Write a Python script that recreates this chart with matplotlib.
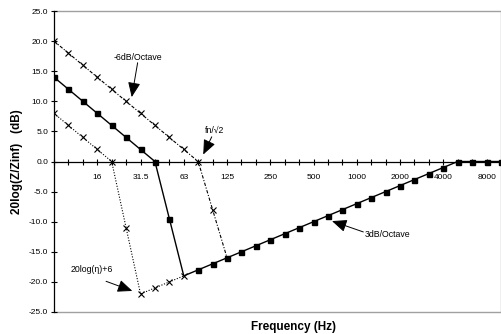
import numpy as np
import matplotlib
matplotlib.use("Agg")
import matplotlib.pyplot as plt

plt.rcParams['font.family'] = ['Liberation Sans', 'DejaVu Sans']

# Third-octave band centre frequencies (category axis)
freqs = [8, 10, 12.5, 16, 20, 25, 31.5, 40, 50, 63, 80, 100, 125, 160, 200, 250,
         315, 400, 500, 630, 800, 1000, 1250, 1600, 2000, 2500, 3150, 4000, 5000,
         6300, 8000, 10000]
shown_labels = {16: "16", 31.5: "31.5", 63: "63", 125: "125", 250: "250",
                500: "500", 1000: "1000", 2000: "2000", 4000: "4000", 8000: "8000"}

# Main response (dB)
main_db = [14, 12, 10, 8, 6, 4, 2, 0, -9.5, -19,
           -18, -17, -16, -15, -14, -13, -12, -11, -10, -9, -8, -7, -6, -5, -4,
           -3, -2, -1, 0, 0, 0, 0]
# Upper bound, fn/sqrt2 shifted (dB)
upper_db = [20, 18, 16, 14, 12, 10, 8, 6, 4, 2, 0, -8, -16]
# Lower bound (dB)
lower_db = [8, 6, 4, 2, 0, -11, -22, -21, -20, -19]

W, H = 502, 334
fig = plt.figure(figsize=(W / 100, H / 100), dpi=100)
ax = fig.add_axes([54 / W, 1 - 312 / H, (501 - 54) / W, (312 - 11) / H])

x_all = np.arange(len(freqs))

ax.plot(x_all[:len(upper_db)], upper_db, color='black', lw=0.8,
        dashes=(3, 1.5, 1, 1.5), marker='x', ms=4, mew=0.8,
        markevery=list(range(len(upper_db) - 1)))
ax.plot(x_all[:len(lower_db)], lower_db, color='black', lw=0.8, ls=(0, (1, 1.5)),
        marker='x', ms=4, mew=0.8)
ax.plot(x_all, main_db, color='black', lw=1.0, marker='s', ms=3.6,
        markevery=[i for i in range(len(main_db)) if i != 9])

ax.set_xlim(0, len(freqs) - 1)
ax.set_ylim(-25, 25)

ax.set_yticks(np.arange(-25, 26, 5))
ax.set_yticklabels([f"{v:.1f}" for v in np.arange(-25, 26, 5)])
ax.set_xticks(x_all)
ax.set_xticklabels([shown_labels.get(f, "") for f in freqs])

for s in ['top', 'right']:
    ax.spines[s].set_visible(False)
ax.spines['bottom'].set_position(('data', 0))
ax.spines['bottom'].set_linewidth(0.9)
ax.spines['left'].set_linewidth(0.9)

# plot area frame
ax.axhline(25, color='#a0a0a0', lw=1.0, clip_on=False, zorder=0)
ax.axhline(-25, color='#a0a0a0', lw=1.0, clip_on=False, zorder=0)
ax.axvline(len(freqs) - 1, color='#b0b0b0', lw=1.0, clip_on=False, zorder=0)

ax.tick_params(axis='x', direction='inout', length=4.5, width=0.8, labelsize=6,
               pad=6.5)
ax.tick_params(axis='y', direction='inout', length=4.5, width=0.8, labelsize=6,
               pad=2)

ax.set_ylabel("20log(Z/Zinf)   (dB)", fontsize=8.5, fontweight='bold', labelpad=4)
fig.text(293.7 / W, 1 - 327 / H, "Frequency (Hz)", fontsize=8.5,
         fontweight='bold', ha='center', va='center')

arrow = dict(arrowstyle='-|>,head_length=0.9,head_width=0.38', color='black',
             lw=0.7, shrinkA=0, shrinkB=0, mutation_scale=10)
ax.text(5.79, 17.3, "-6dB/Octave", fontsize=6.3, ha='center', va='center')
ax.annotate("", xy=(5.39, 10.7), xytext=(5.80, 16.4), arrowprops=arrow)
ax.text(11.17, 5.2, "fn/√2", fontsize=6.3, ha='center', va='center')
ax.annotate("", xy=(10.35, 1.16), xytext=(10.94, 4.1), arrowprops=arrow)
ax.text(2.61, -17.9, "20log(η)+6", fontsize=6.3, ha='center', va='center')
ax.annotate("", xy=(5.43, -21.5), xytext=(3.61, -19.9), arrowprops=arrow)
ax.text(21.57, -12.2, "3dB/Octave", fontsize=6.3, ha='left', va='center')
ax.annotate("", xy=(19.28, -9.9), xytext=(21.45, -11.7), arrowprops=arrow)

fig.savefig("out.png", dpi=100)
